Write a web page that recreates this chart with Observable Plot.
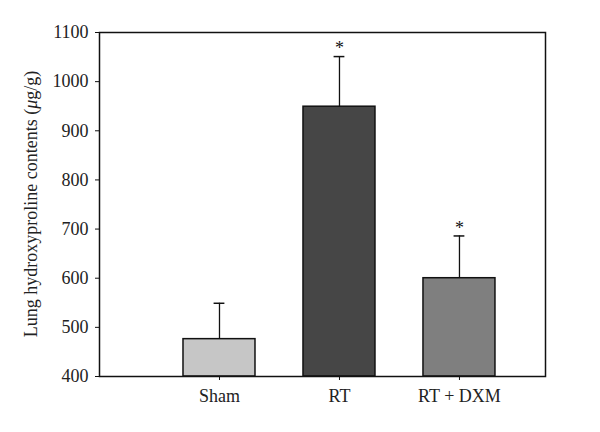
<!DOCTYPE html>
<html>
<head>
<meta charset="utf-8">
<script src="https://cdn.jsdelivr.net/npm/d3@7"></script>
<script src="https://cdn.jsdelivr.net/npm/@observablehq/plot@0.6"></script>
<style>
  html, body { margin: 0; padding: 0; background: #fff; }
  #chart svg { display: block; font-family: 'Liberation Serif', serif; }
</style>
</head>
<body>
<div id="chart"></div>
<script>
const groups = ["Sham", "RT", "RT + DXM"];
const means = [476, 949, 600];
const errors = [73, 102, 86];
const significant = [false, true, true];
const fills = ["#c6c6c6", "#464646", "#7f7f7f"];
const yTicks = [400, 500, 600, 700, 800, 900, 1000, 1100];

const data = groups.map((g, i) => ({
  group: g, pos: i + 1, mean: means[i], err: errors[i], top: means[i] + errors[i],
  sig: significant[i], fill: fills[i]
}));

const halfBar = 0.3;
const halfCap = 0.045;
const font = "Liberation Serif";

const chart = Plot.plot({
  width: 600,
  height: 432,
  marginLeft: 99,
  marginRight: 55,
  marginTop: 32,
  marginBottom: 56,
  style: { fontFamily: font, background: "#fff" },
  x: { type: "linear", domain: [0, 3.717] },
  y: { domain: [400, 1100] },
  marks: [
    Plot.axisX({ ticks: [1, 2, 3], tickFormat: d => groups[d - 1], tickSize: 4, tickPadding: 9, fontSize: 18, fontFamily: font, fill: "#222", stroke: "#111", label: null }),
    Plot.axisY({ ticks: yTicks, tickFormat: d => String(d), tickSize: 4, tickPadding: 7, fontSize: 18, fontFamily: font, fill: "#222", stroke: "#111", label: null }),
    Plot.ruleX(data, { x: "pos", y1: "mean", y2: "top", stroke: "#111", strokeWidth: 1.3 }),
    Plot.ruleY(data, { y: "top", x1: d => d.pos - halfCap, x2: d => d.pos + halfCap, stroke: "#111", strokeWidth: 1.5 }),
    Plot.rectY(data, { x1: d => d.pos - halfBar, x2: d => d.pos + halfBar, y1: 400, y2: "mean", fill: d => d.fill, stroke: "#111", strokeWidth: 1.5 }),
    Plot.text(data.filter(d => d.sig), { x: "pos", y: "top", text: () => "*", dy: -8, fontSize: 18, fontFamily: font, fill: "#111" }),
    Plot.frame({ stroke: "#111", strokeWidth: 1.5 })
  ]
});

// Y-axis title with italic mu
const svg = d3.select(chart);
const t = svg.append("text")
  .attr("transform", "translate(33,204) rotate(-90)")
  .attr("text-anchor", "middle")
  .attr("dominant-baseline", "middle")
  .attr("font-family", font)
  .attr("font-size", 18)
  .attr("fill", "#222");
t.append("tspan").text("Lung hydroxyproline contents (");
t.append("tspan").attr("font-style", "italic").text("\u03bc");
t.append("tspan").text("g/g)");

document.getElementById("chart").appendChild(chart);
</script>
</body>
</html>
